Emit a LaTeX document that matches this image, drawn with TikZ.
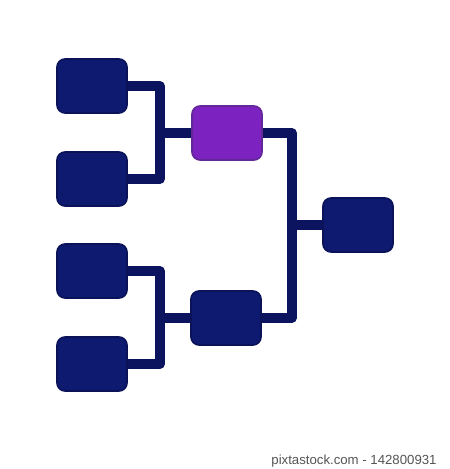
\documentclass[tikz,border=0pt]{standalone}
\usepackage{fontspec}
\setmainfont{Liberation Sans}
\definecolor{navyfill}{RGB}{14,26,112}
\definecolor{navyedge}{RGB}{10,18,88}
\definecolor{navyline}{RGB}{12,20,96}
\definecolor{purplefill}{RGB}{124,34,192}
\definecolor{purpleedge}{RGB}{98,40,150}
\definecolor{marktext}{RGB}{85,85,85}
\tikzset{
  teambox/.style={draw=navyedge, fill=navyfill, line width=1.6pt, rounded corners=8pt,
    minimum width=70pt, minimum height=54pt, inner sep=0pt},
  winbox/.style={teambox, draw=purpleedge, fill=purplefill},
  link/.style={draw=navyline, line width=9.5pt, line join=round}
}
\begin{document}
\begin{tikzpicture}[x=1pt,y=-1pt]
\useasboundingbox[fill=white] (0,0) rectangle (450,469);
% first round
\node[teambox] (L1) at (92,86) {};
\node[teambox] (L2) at (92,179) {};
\node[teambox] (L3) at (92,271) {};
\node[teambox] (L4) at (92,364) {};
% semi-finals
\node[winbox] (S1) at (227,133) {};
\node[teambox] (S2) at (226,318) {};
% final
\node[teambox] (F) at (358,225) {};
% junctions
\coordinate (v1) at (160,133);
\coordinate (v2) at (160,318);
\coordinate (v3) at (292,225);
% connectors
\draw[link] (L1.east) -| (v1) |- (L2.east);
\draw[link] (v1) -- (S1.west);
\draw[link] (L3.east) -| (v2) |- (L4.east);
\draw[link] (v2) -- (S2.west);
\draw[link] (S1.east) -| (v3) |- (S2.east);
\draw[link] (v3) -- (F.west);
% credit line
\node[text=marktext, font=\fontsize{13.2}{15}\selectfont] (credit) at (354,461) {pixtastock.com - 142800931};
\end{tikzpicture}
\end{document}
